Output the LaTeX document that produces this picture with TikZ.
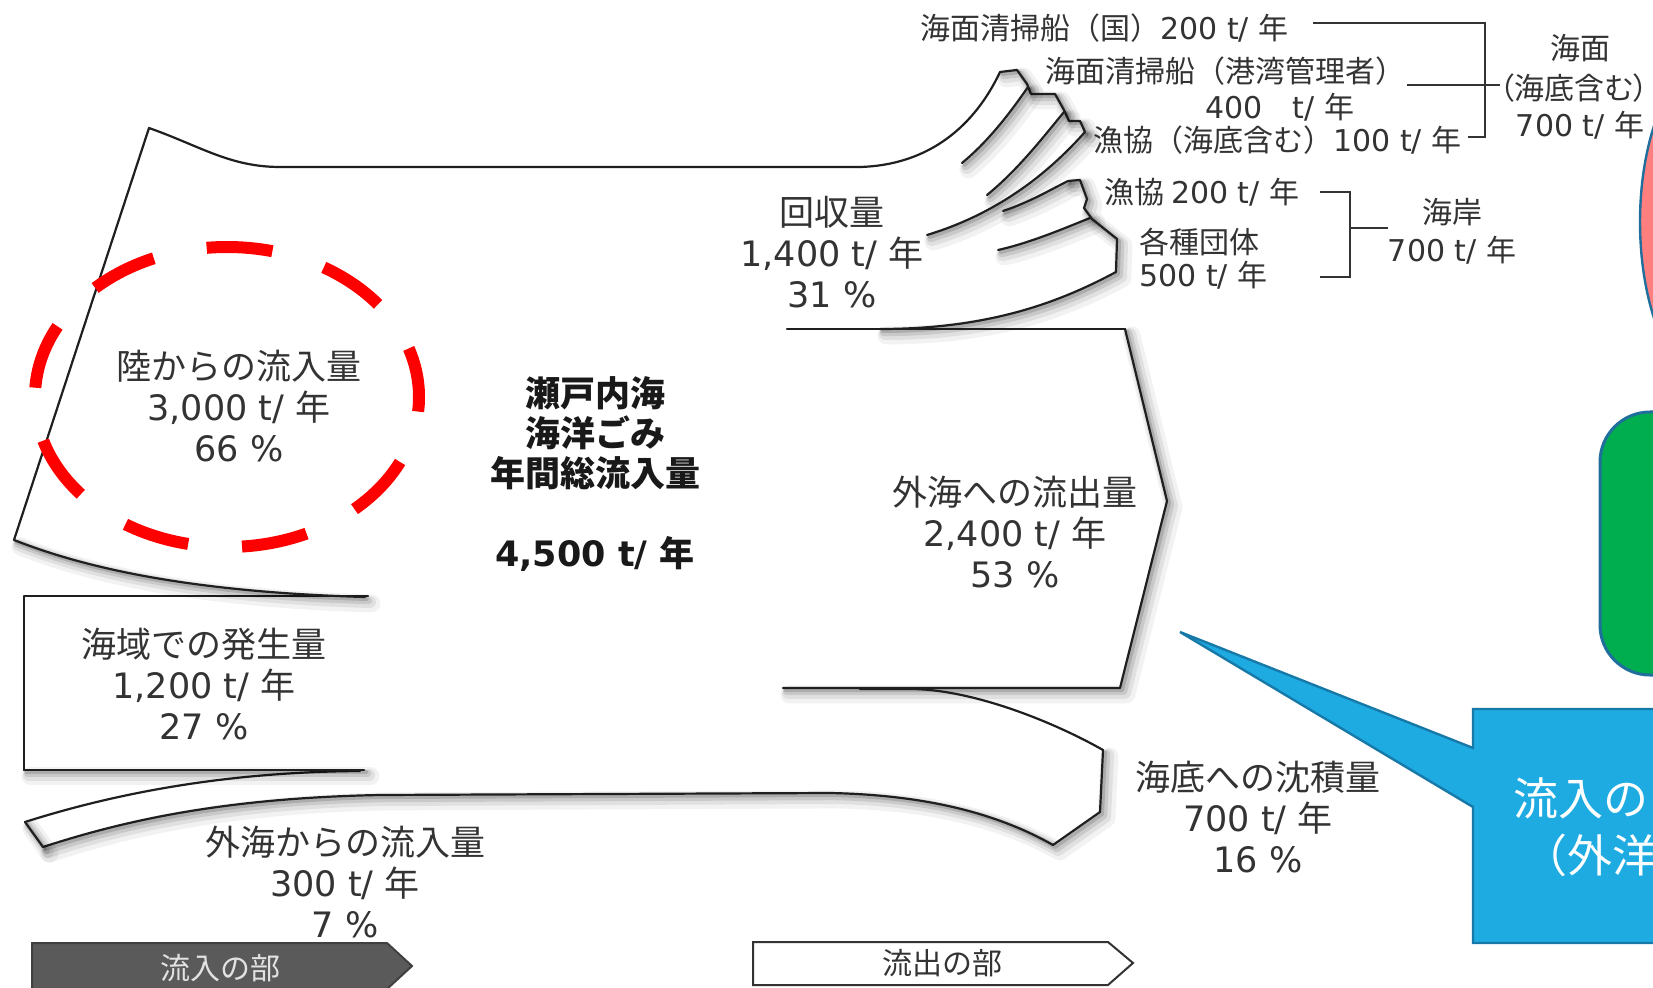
\documentclass[tikz,border=0pt]{standalone}
\usepackage{fontspec}
\setmainfont{Noto Sans CJK JP}
\newfontfamily\latf{DejaVu Sans}
\newcommand\LatT[1]{{\latf #1}}
\definecolor{txt}{HTML}{333333}
\definecolor{cyanfill}{HTML}{1EABE2}
\definecolor{cyanedge}{HTML}{1779A8}
\definecolor{greenfill}{HTML}{00AE4F}
\definecolor{edgeblue}{HTML}{1F6E9C}
\definecolor{salmon}{HTML}{FF7F7F}
\definecolor{darkarrow}{HTML}{5A5A5A}
\definecolor{lightlabel}{HTML}{E2E2E2}
\tikzset{
  outl/.style={draw=black!88,line width=1.1pt,line join=round,line cap=round},
  shA/.style={draw=black,draw opacity=.05,line width=9pt,line cap=round,line join=round,shift={(3.2pt,-3.2pt)}},
  shB/.style={draw=black,draw opacity=.07,line width=6pt,line cap=round,line join=round,shift={(2.5pt,-2.5pt)}},
  shC/.style={draw=black,draw opacity=.10,line width=3.6pt,line cap=round,line join=round,shift={(1.8pt,-1.8pt)}},
  shD/.style={draw=black,draw opacity=.14,line width=1.8pt,line cap=round,line join=round,shift={(1.1pt,-1.1pt)}}
}
\newcommand\ShadowLine[1]{\draw[shA] #1; \draw[shB] #1; \draw[shC] #1; \draw[shD] #1; \draw[outl] #1;}
\begin{document}
\begin{tikzpicture}[x=0.5pt,y=-0.5pt,
  brk/.style={draw=txt,line width=1pt},
  lbl/.style={font=\fontsize{17.5}{20.5}\selectfont,text=txt,align=center,inner sep=0pt},
  sml/.style={font=\fontsize{15}{18}\selectfont,text=txt,align=center,inner sep=0pt},
  ttl/.style={font=\fontsize{17.5}{20}\selectfont\bfseries,text=black!90,align=center,inner sep=0pt},
  reddash/.style={draw=red,line width=6pt,dash pattern=on 33pt off 27pt,dash phase=8pt},
  pent/.style={line width=1pt,line join=miter},
  calltxt/.style={anchor=west,inner sep=0pt,text=white,font=\fontsize{22.5}{26}\selectfont}
]
\useasboundingbox (0,0) rectangle (1653,988);
\clip (0,0) rectangle (1653,988);
\fill[white] (0,0) rectangle (1653,988);

% ---------- Sankey outlines ----------
% land inflow: left edge, top edge, outer edge of first arm
\draw[outl] (14,540) -- (149,128) .. controls (200,146) and (230,167) .. (280,167) -- (860,167) .. controls (930,165) and (975,125) .. (1000,72);
% arm tips 1-3
\ShadowLine{(1000,72) -- (1017,70) -- (1027,84) -- (1031,94) -- (1055,94) -- (1064,110) -- (1069,121) -- (1080,121) -- (1085,132)}
% dividers between arms
\ShadowLine{(1028,87) .. controls (1012,110) and (990,140) .. (962,163)}
\ShadowLine{(1064,112) .. controls (1045,135) and (1018,170) .. (987,195)}
\ShadowLine{(1085,132) .. controls (1060,160) and (1010,210) .. (927,235)}
\ShadowLine{(1068,181) .. controls (1050,190) and (1030,202) .. (1003,211)}
\ShadowLine{(1090,218) .. controls (1065,228) and (1030,243) .. (998,250)}
% arm tips 4-5 and lower edge of recovery flow
\ShadowLine{(1068,181) -- (1080,180) -- (1087,199) -- (1084,208) -- (1092,219) -- (1117,239) -- (1116,272) .. controls (1060,302) and (990,329) .. (880,329)}
% outflow to open sea
\draw[outl] (787,329) -- (1125,329);
\ShadowLine{(1125,329) -- (1167,501) -- (1120,688) -- (783,688)}
% sediment flow
\draw[outl] (860,689) -- (910,689) .. controls (970,689) and (1050,720) .. (1103,750);
\ShadowLine{(1103,750) -- (1100,812) -- (1053,845) .. controls (1000,815) and (930,795) .. (830,793) -- (380,795) .. controls (220,798) and (120,822) .. (43,847)}
% inflow from open sea (thin strip)
\ShadowLine{(43,847) -- (25,822)}
\draw[outl] (25,822) .. controls (110,795) and (220,772) .. (360,771);
% sea-area generation box
\draw[outl] (368,596) -- (24,596) -- (24,770);
\ShadowLine{(24,770) -- (364,770)}
% land inflow lower edge
\ShadowLine{(14,540) .. controls (85,568) and (190,592) .. (365,597)}

% ---------- brackets ----------
\draw[brk] (1313,23) -- (1485,23) -- (1485,137) -- (1468,137);
\draw[brk] (1407,85) -- (1500,85);
\draw[brk] (1320,192) -- (1350,192) -- (1350,277) -- (1320,277);
\draw[brk] (1350,228) -- (1388,228);

% ---------- labels ----------
\node[lbl] (land) at (239,406) {陸からの流入量\\\LatT{3,000 t/ }年\\\LatT{66 \%}};
\node[lbl] (seaarea) at (204,684) {海域での発生量\\\LatT{1,200 t/ }年\\\LatT{27 \%}};
\node[lbl] (outin) at (345,882) {外海からの流入量\\\LatT{300 t/ }年\\\LatT{7 \%}};
\node[lbl] (recov) at (832,252) {回収量\\\LatT{1,400 t/ }年\\\LatT{31 \%}};
\node[lbl] (outflow) at (1015,532) {外海への流出量\\\LatT{2,400 t/ }年\\\LatT{53 \%}};
\node[lbl] (sediment) at (1258,817) {海底への沈積量\\\LatT{700 t/ }年\\\LatT{16 \%}};
\node[ttl] (title) at (595,474) {瀬戸内海\\海洋ごみ\\年間総流入量\\[20pt]\LatT{4,500 t/ }年};

\node[sml,anchor=west] (r1) at (920,28) {海面清掃船（国）\LatT{200 t/ }年};
\node[sml,anchor=west] (r2) at (1045,71) {海面清掃船（港湾管理者）};
\node[sml,anchor=west] (r3) at (1205,107) {\LatT{400}　\LatT{t/ }年};
\node[sml,anchor=west] (r4) at (1093,140) {漁協（海底含む）\LatT{100 t/ }年};
\node[sml,anchor=west] (r5) at (1104,192) {漁協 \LatT{200 t/ }年};
\node[sml,anchor=west] (r6) at (1139,242) {各種団体};
\node[sml,anchor=west] (r7) at (1139,275) {\LatT{500 t/ }年};
\node[sml] (coast) at (1452,231) {海岸\\[1pt]\LatT{700 t/ }年};
\node[sml] (surf1) at (1580,48) {海面};
\node[sml,font=\fontsize{15}{18}\selectfont\addfontfeature{RawFeature=+palt}] (surf2) at (1574,88) {（海底含む）};
\node[sml] (surf3) at (1580,125) {\LatT{700 t/ }年};

% ---------- bottom arrows ----------
\draw[pent,fill=darkarrow,draw=black!75] (32,943) -- (387,943) -- (412,966) -- (387,989) -- (32,989) -- cycle;
\node[sml,text=lightlabel] (inpart) at (220,968) {流入の部};
\draw[pent,fill=white,draw=txt] (753,942) -- (1108,942) -- (1133,963) -- (1108,985) -- (753,985) -- cycle;
\node[sml] (outpart) at (942,963) {流出の部};

% ---------- annotations ----------
\draw[reddash] (227,397) ellipse [x radius=96pt,y radius=75pt];
\draw[fill=salmon,draw=edgeblue,line width=1.2pt] (1720,222) ellipse [x radius=40pt,y radius=85pt];
\draw[fill=greenfill,draw=edgeblue,line width=1.5pt,rounded corners=25pt] (1600,412) rectangle (1760,675);
\draw[fill=cyanfill,draw=cyanedge,line width=1.2pt,line join=miter] (1473,709) -- (1720,709) -- (1720,943) -- (1473,943) -- (1473,807) -- (1180,632) -- (1473,748) -- cycle;
\node[calltxt] (call1) at (1513,798) {流入の};
\node[calltxt] (call2) at (1522,855) {（外洋};
\end{tikzpicture}
\end{document}
